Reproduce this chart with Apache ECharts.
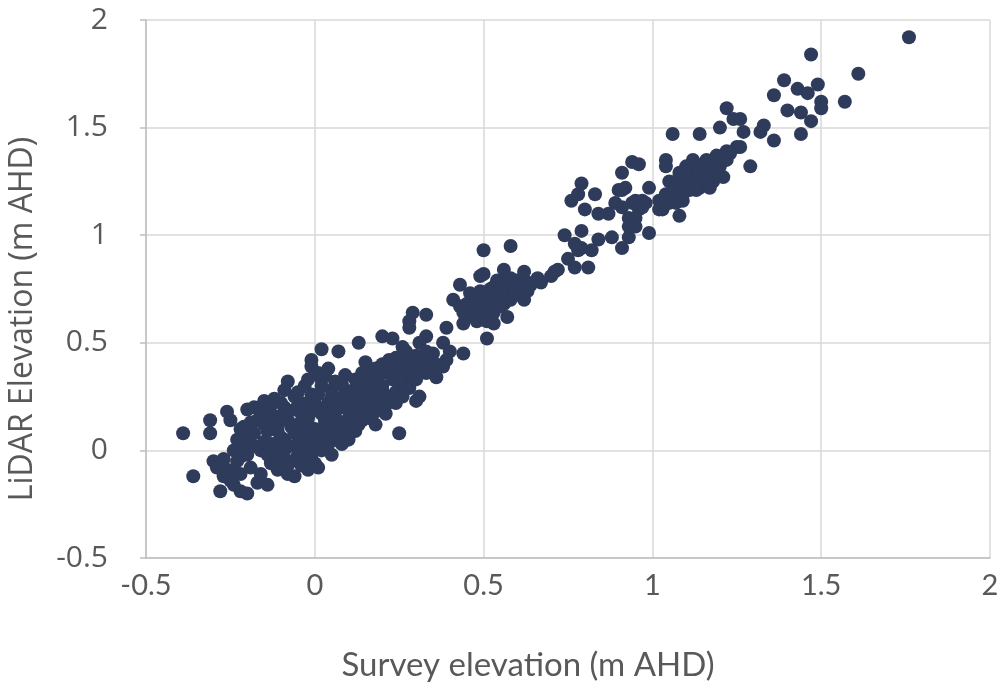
<!DOCTYPE html>
<html>
<head>
<meta charset="utf-8">
<script src="https://cdn.jsdelivr.net/npm/echarts@6/dist/echarts.min.js"></script>
<style>
  html, body { margin: 0; padding: 0; background: #fff; }
  #chart { width: 1007px; height: 691px; }
</style>
</head>
<body>
<div id="chart"></div>
<script>
// axis ticks (m AHD)
var xTicks = [-0.5, 0, 0.5, 1, 1.5, 2];
var yTicks = [-0.5, 0, 0.5, 1, 1.5, 2];
var xTitle = 'Survey elevation (m AHD)';
var yTitle = 'LiDAR Elevation (m AHD)';

// [survey elevation, LiDAR elevation]
var upperPoints = [
  [1.76,1.92],[1.61,1.75],[1.57,1.62],[1.47,1.84],[1.39,1.72],[1.36,1.65],[1.43,1.68],[1.49,1.70],[1.46,1.66],[1.50,1.62],
  [1.50,1.59],[1.44,1.57],[1.47,1.53],[1.40,1.58],[1.44,1.47],[1.33,1.51],[1.32,1.48],[1.36,1.44],[1.27,1.48],[1.26,1.41],
  [1.26,1.54],[1.22,1.59],[1.24,1.54],[1.20,1.50],[1.06,1.47],[1.14,1.47],[1.25,1.41],[1.22,1.39],[1.29,1.32],[1.04,1.35],
  [1.04,1.32],[0.94,1.34],[0.91,1.29],[0.92,1.22],[0.99,1.22],[0.83,1.19],[0.79,1.24],[0.80,1.12],
  [1.19,1.37],[1.16,1.35],[1.13,1.33],[1.10,1.30],[1.08,1.27],[1.06,1.24],[1.04,1.19],[1.07,1.18],[1.11,1.21],[1.14,1.22],
  [1.18,1.25],[1.21,1.27],[1.20,1.32],[1.22,1.35],[1.17,1.30],[1.12,1.27],[1.09,1.22],[1.03,1.12],[1.08,1.09],[1.02,1.16],
  [1.23,1.38],[1.12,1.35],[1.11,1.25],[1.17,1.22],[1.13,1.21],[1.09,1.19],[1.07,1.15],[0.97,1.16],[1.02,1.12],[0.99,1.01],
  [0.96,1.33],[1.05,1.25],[1.08,1.29],[1.10,1.32],[1.04,1.18],
  [1.15,1.28],[1.18,1.32],[1.14,1.30],[1.10,1.26],[1.06,1.20],[1.13,1.24],[1.16,1.26],[1.19,1.29],[1.09,1.16],[1.05,1.15]
];

var middlePoints = [
  [0.95,1.16],[0.96,1.12],[0.93,1.08],[0.91,1.13],[0.89,1.15],[0.87,1.10],[0.84,1.10],[0.95,1.04],[0.93,0.99],[0.88,0.99],
  [0.84,0.98],[0.82,0.93],[0.91,0.94],[0.79,1.02],[0.79,0.94],[0.98,1.15],[0.90,1.21],[0.78,1.19],[0.76,1.16],[0.91,1.21],
  [0.94,1.15],[0.97,1.13],[0.95,1.08],[0.93,1.04],[0.74,1.00],[0.77,0.96],[0.75,0.89],[0.77,0.85],[0.81,0.85],[0.72,0.84],
  [0.70,0.81],[0.67,0.78],[0.64,0.77],[0.62,0.83],[0.56,0.84],[0.58,0.95],[0.50,0.93],[0.50,0.82],[0.53,0.76],[0.57,0.76],
  [0.60,0.74],[0.62,0.70],[0.56,0.68],[0.51,0.71],[0.53,0.64],[0.57,0.62],[0.53,0.59],[0.50,0.64],[0.51,0.52],
  [0.78,0.93],[0.71,0.83],[0.63,0.74],[0.61,0.72],[0.60,0.79],[0.54,0.79],[0.58,0.70],[0.54,0.71],[0.55,0.67],[0.49,0.81],
  [0.43,0.77],[0.46,0.73],[0.48,0.70],[0.41,0.70],[0.43,0.67],[0.46,0.66],[0.49,0.67],[0.45,0.62],[0.48,0.60],[0.44,0.59],
  [0.51,0.60],[0.39,0.57],[0.29,0.64],[0.33,0.63],[0.28,0.60],[0.28,0.57],[0.33,0.53],[0.31,0.50],[0.38,0.50],[0.40,0.46],
  [0.44,0.45],[0.35,0.45],[0.26,0.48],[0.36,0.34],[0.39,0.42],[0.31,0.25],[0.38,0.39],[0.25,0.08],
  [0.45,0.68],[0.47,0.70],[0.50,0.72],[0.52,0.75],[0.55,0.78],[0.58,0.80],[0.60,0.76],[0.63,0.78],[0.66,0.80],[0.50,0.66],
  [0.53,0.68],[0.56,0.72],[0.59,0.73],[0.47,0.63],[0.44,0.64],
  [0.46,0.69],[0.49,0.74],[0.52,0.70],[0.55,0.74],[0.57,0.79],[0.48,0.64],[0.51,0.68]
];

var lowerPoints = [
  [0.20,0.53],[0.23,0.52],[0.13,0.50],[0.15,0.41],[0.02,0.47],[0.07,0.46],[-0.01,0.42],[-0.01,0.39],[0.02,0.33],[0.09,0.35],
  [0.08,0.31],[-0.08,0.32],[-0.09,0.28],[-0.01,0.26],[0.05,0.28],[0.12,0.29],[0.18,0.33],[0.22,0.37],[0.24,0.43],[0.27,0.46],
  [0.28,0.39],[0.20,0.28],[0.25,0.29],[0.17,0.23],[0.13,0.22],[0.09,0.23],[0.04,0.22],[0.01,0.20],[-0.04,0.22],[-0.09,0.20],
  [-0.13,0.21],[-0.18,0.20],[0.15,0.17],[0.10,0.15],[0.05,0.14],[0.28,0.29],[0.30,0.23],
  [-0.39,0.08],[-0.36,-0.12],[-0.28,-0.19],[-0.31,0.14],[-0.31,0.08],[-0.26,0.18],[-0.25,0.14],[-0.30,-0.05],[-0.29,-0.08],
  [-0.26,-0.09],[-0.25,-0.14],[-0.22,-0.19],[-0.20,-0.20],[-0.17,-0.15],[-0.14,-0.16],[-0.22,-0.03],[-0.19,-0.08],[-0.16,-0.11],
  [-0.23,0.05],[-0.20,0.06],[-0.20,0.19],[-0.16,0.20],[-0.17,0.14],[-0.14,0.09],[-0.11,0.12],[-0.06,0.19],[-0.11,-0.02],
  [-0.08,0.02],[-0.05,-0.02],[-0.11,-0.09],[-0.08,-0.11],[-0.06,-0.12],[-0.02,-0.09],[0.01,-0.08],[-0.01,-0.02],[-0.03,0.06],
  [-0.06,0.09],[-0.10,0.06],[-0.13,0.03],[-0.16,0.00],[0.02,0.06],[0.03,0.14],[-0.02,0.12],[-0.21,0.11],
  [0.10,0.26],[0.12,0.17],[0.12,0.09],[0.10,0.05],[0.06,0.05],
  [-0.22,0.10],[-0.18,0.08],[-0.15,0.12],[-0.12,0.16],[-0.08,0.14],[-0.05,0.12],[-0.02,0.15],[0.00,0.10],[0.03,0.12],[0.06,0.16],
  [0.08,0.20],[0.11,0.22],[0.14,0.25],[0.17,0.27],[0.20,0.30],[0.05,0.25],[0.02,0.30],[-0.03,0.30],[-0.06,0.25],[-0.10,0.22],
  [-0.14,0.18],[0.00,0.20],[0.04,0.08],[0.07,0.10],[0.09,0.13],[0.12,0.18],[0.15,0.20],[-0.04,0.04],[-0.01,0.03],[0.02,0.00],
  [0.05,-0.02],[0.00,-0.06],[-0.03,-0.04],[-0.07,-0.05],[-0.10,-0.03],[-0.12,0.03],[-0.09,0.05],[-0.06,0.08],[-0.15,0.04],
  [-0.18,0.02],[-0.20,-0.02],[-0.23,-0.05],[-0.22,-0.11],[-0.13,-0.06],[-0.11,0.09],[0.08,0.03],[0.10,0.08],[0.13,0.12],
  [0.16,0.15],[0.19,0.20],[0.22,0.24],[0.24,0.22],[0.21,0.17],[0.18,0.12],[0.03,0.35],[0.06,0.32],[0.09,0.28],[0.12,0.33],
  [0.15,0.30],[-0.02,0.22],[-0.08,0.18],[0.01,0.26],
  [0.20,0.36],[0.23,0.33],[0.26,0.35],[0.29,0.38],[0.32,0.40],[0.34,0.43],[0.30,0.33],[0.27,0.30],[0.24,0.27],[0.21,0.25],
  [0.18,0.22],[0.33,0.36],[0.36,0.40],[0.25,0.40],[0.22,0.42],[0.18,0.38],[0.16,0.35],
  [-0.24,0.00],[-0.21,0.03],[-0.19,0.13],[-0.16,0.16],[-0.13,0.13],[-0.10,0.16],[-0.07,0.11],[-0.04,0.17],[-0.01,0.18],[0.02,0.17],
  [0.04,0.19],[0.07,0.24],[-0.05,0.08],[-0.02,0.08],[0.01,0.06],[0.04,0.03],[0.07,0.07],[-0.09,0.00],[-0.06,0.02],[-0.03,0.00],
  [0.00,0.01],[-0.14,-0.02],[-0.11,-0.06],[-0.08,-0.07],[-0.04,-0.07],[-0.24,-0.09],[-0.27,-0.12],[-0.24,-0.16],[-0.27,-0.04],
  [0.06,0.20],[0.10,0.19],[0.13,0.27],[0.16,0.25],[0.19,0.26],[0.08,0.12],[0.11,0.12],[0.14,0.14],[0.05,0.09],[-0.05,0.27],
  [-0.02,0.33],[0.01,0.36],[0.04,0.38],[-0.12,0.24],[-0.15,0.23],[0.18,0.18],[0.21,0.21],[0.26,0.25],
  [0.14,0.36],[0.17,0.30],[0.20,0.40],[0.23,0.38],[0.26,0.38],[0.29,0.34],[0.31,0.37],[0.33,0.46],[0.35,0.38],[0.27,0.42],[0.30,0.44]
];

var chart = echarts.init(document.getElementById('chart'));
var gridColor = '#d9d9d9';
var textColor = '#595959';

chart.setOption({
  backgroundColor: '#fff',
  animation: false,
  grid: { left: 146, right: 17, top: 20, bottom: 133 },
  // axis titles sit off-centre in the original, so they are placed as text
  graphic: [
    {
      type: 'text', x: 528, y: 665,
      style: { text: xTitle, font: '33px Lato', fill: textColor, align: 'center', verticalAlign: 'middle' }
    },
    {
      type: 'text', x: 23, y: 319, rotation: Math.PI / 2,
      style: { text: yTitle, font: '32px "Open Sans"', fill: textColor, align: 'center', verticalAlign: 'middle' }
    }
  ],
  xAxis: {
    type: 'value',
    min: xTicks[0],
    max: xTicks[xTicks.length - 1],
    interval: 0.5,
    axisLine: { show: true, onZero: false, lineStyle: { color: '#bfbfbf', width: 1.5 } },
    axisTick: { show: false },
    splitLine: { show: true, lineStyle: { color: gridColor, width: 1.5 } },
    axisLabel: { fontFamily: 'Lato', fontSize: 29, color: textColor, margin: 13 }
  },
  yAxis: {
    type: 'value',
    min: yTicks[0],
    max: yTicks[yTicks.length - 1],
    interval: 0.5,
    axisLine: { show: true, onZero: false, lineStyle: { color: '#bfbfbf', width: 1.5 } },
    axisTick: { show: true, inside: false, length: 6, lineStyle: { color: '#bfbfbf', width: 1.5 } },
    splitLine: { show: true, lineStyle: { color: gridColor, width: 1.5 } },
    axisLabel: { fontFamily: 'Open Sans', fontSize: 30, color: textColor, margin: 38 }
  },
  series: [{
    type: 'scatter',
    symbol: 'circle',
    symbolSize: 14,
    itemStyle: { color: '#2e3b5b', opacity: 1 },
    data: upperPoints.concat(middlePoints, lowerPoints)
  }]
});
</script>
</body>
</html>
